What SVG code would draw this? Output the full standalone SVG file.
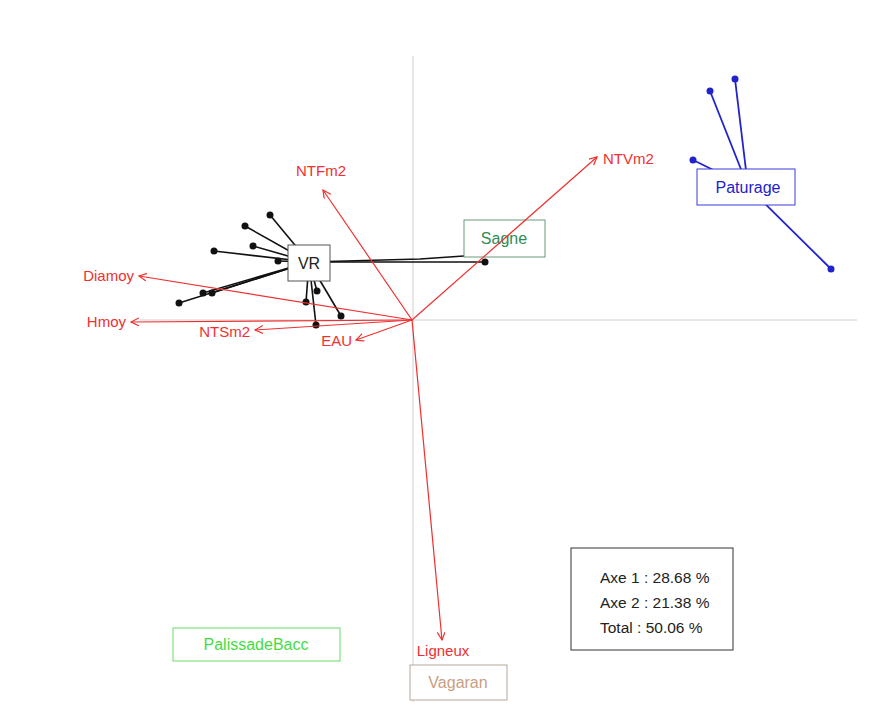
<svg xmlns="http://www.w3.org/2000/svg" width="872" height="721" viewBox="0 0 872 721">
<style>
.axis{stroke:#d0d0d0;stroke-width:1;fill:none}
.arr{stroke:#f03030;stroke-width:1.2;fill:none;marker-end:url(#ah)}
.lab{font-family:"Liberation Sans",Arial,sans-serif;font-size:15px;fill:#f03030}
.blk{stroke:#111;stroke-width:1.6}
.blu{stroke:#2222cc;stroke-width:1.8}
.t{font-family:"Liberation Sans",Arial,sans-serif;font-size:16px;text-anchor:middle}
.lg{font-family:"Liberation Sans",Arial,sans-serif;font-size:15.5px;fill:#222}
</style>
<defs>
<marker id="ah" markerWidth="10" markerHeight="10" refX="8" refY="4" orient="auto" markerUnits="userSpaceOnUse">
<path d="M0,0 L8,4 L0,8" fill="none" stroke="#f03030" stroke-width="1.2"/>
</marker>
</defs>
<rect width="872" height="721" fill="#fff"/>
<g id="axes">
<line class="axis" x1="413" y1="56" x2="413" y2="702"/>
<line class="axis" x1="140" y1="320" x2="857" y2="320"/>
</g>
<g id="connectors">
<g id="vr-links">
<line class="blk" x1="309" y1="262" x2="270" y2="215"/>
<line class="blk" x1="309" y1="262" x2="245" y2="226"/>
<line class="blk" x1="309" y1="262" x2="253" y2="246"/>
<line class="blk" x1="309" y1="262" x2="214" y2="251"/>
<line class="blk" x1="309" y1="262" x2="278" y2="261"/>
<line class="blk" x1="309" y1="262" x2="179" y2="303"/>
<line class="blk" x1="309" y1="262" x2="203" y2="293"/>
<line class="blk" x1="309" y1="262" x2="212" y2="293"/>
<line class="blk" x1="309" y1="262" x2="306" y2="302"/>
<line class="blk" x1="309" y1="262" x2="317" y2="291"/>
<line class="blk" x1="309" y1="262" x2="316" y2="325"/>
<line class="blk" x1="309" y1="262" x2="341" y2="316"/>
<line class="blk" x1="309" y1="262" x2="485" y2="262"/>
<path class="blk" d="M309,262 L420,259 L464,256" fill="none" stroke-width="1.2"/>
</g>
<g id="pat-links">
<line class="blu" x1="748" y1="187" x2="710" y2="91"/>
<line class="blu" x1="748" y1="187" x2="735" y2="79"/>
<line class="blu" x1="748" y1="187" x2="693" y2="160"/>
<line class="blu" x1="748" y1="187" x2="831" y2="269"/>
</g>
</g>
<g id="points" fill="#111">
<circle cx="270" cy="215" r="3.5"/><circle cx="245" cy="226" r="3.5"/><circle cx="253" cy="246" r="3.5"/>
<circle cx="214" cy="251" r="3.5"/><circle cx="278" cy="261" r="3.5"/><circle cx="179" cy="303" r="3.5"/>
<circle cx="203" cy="293" r="3.5"/><circle cx="212" cy="293" r="3.5"/><circle cx="306" cy="302" r="3.5"/>
<circle cx="317" cy="291" r="3.5"/><circle cx="316" cy="325" r="3.5"/><circle cx="341" cy="316" r="3.5"/>
<circle cx="485" cy="262" r="3.5"/>
</g>
<g id="pat-points" fill="#2222cc">
<circle cx="710" cy="91" r="3.5"/><circle cx="735" cy="79" r="3.5"/><circle cx="693" cy="160" r="3.5"/><circle cx="831" cy="269" r="3.5"/>
</g>
<g id="VR">
<rect x="288" y="245" width="42" height="36" fill="#fff" stroke="#555" stroke-width="1"/>
<text class="t" x="309" y="269" fill="#222">VR</text>
</g>
<g id="Sagne">
<rect x="464" y="220" width="81" height="37" fill="none" stroke="#6a9a7a" stroke-width="1"/>
<text class="t" x="504" y="244" fill="#2e8b57">Sagne</text>
</g>
<g id="Paturage">
<rect x="697" y="169" width="98" height="36" fill="#fff" stroke="#3a3ae0" stroke-width="1"/>
<text class="t" x="748" y="193" fill="#2222cc">Paturage</text>
</g>
<g id="PalissadeBacc">
<rect x="173" y="628" width="167" height="33" fill="#fff" stroke="#66dd66" stroke-width="1"/>
<text class="t" x="256" y="650" fill="#44dd44">PalissadeBacc</text>
</g>
<g id="Vagaran">
<rect x="410" y="665" width="97" height="35" fill="#fff" stroke="#b8a898" stroke-width="1"/>
<text class="t" x="458" y="688" fill="#c8a080">Vagaran</text>
</g>
<g id="arrows">
<line class="arr" x1="412" y1="320" x2="323" y2="190"/>
<line class="arr" x1="412" y1="320" x2="597" y2="157"/>
<line class="arr" x1="412" y1="320" x2="139" y2="276"/>
<line class="arr" x1="412" y1="320" x2="131" y2="322"/>
<line class="arr" x1="412" y1="320" x2="255" y2="330"/>
<line class="arr" x1="412" y1="320" x2="356" y2="340"/>
<line class="arr" x1="412" y1="320" x2="442" y2="640"/>
</g>
<g id="var-labels">
<text class="lab" x="321" y="176" text-anchor="middle">NTFm2</text>
<text class="lab" x="603" y="164">NTVm2</text>
<text class="lab" x="134" y="281" text-anchor="end">Diamoy</text>
<text class="lab" x="126" y="327" text-anchor="end">Hmoy</text>
<text class="lab" x="250" y="337" text-anchor="end">NTSm2</text>
<text class="lab" x="352" y="346" text-anchor="end">EAU</text>
<text class="lab" x="443" y="656" text-anchor="middle">Ligneux</text>
</g>
<g id="legend">
<rect x="571" y="548" width="162" height="102" fill="#fff" stroke="#333" stroke-width="1"/>
<text class="lg" x="600" y="583">Axe 1 : 28.68 %</text>
<text class="lg" x="600" y="608">Axe 2 : 21.38 %</text>
<text class="lg" x="600" y="633">Total : 50.06 %</text>
</g>
</svg>
